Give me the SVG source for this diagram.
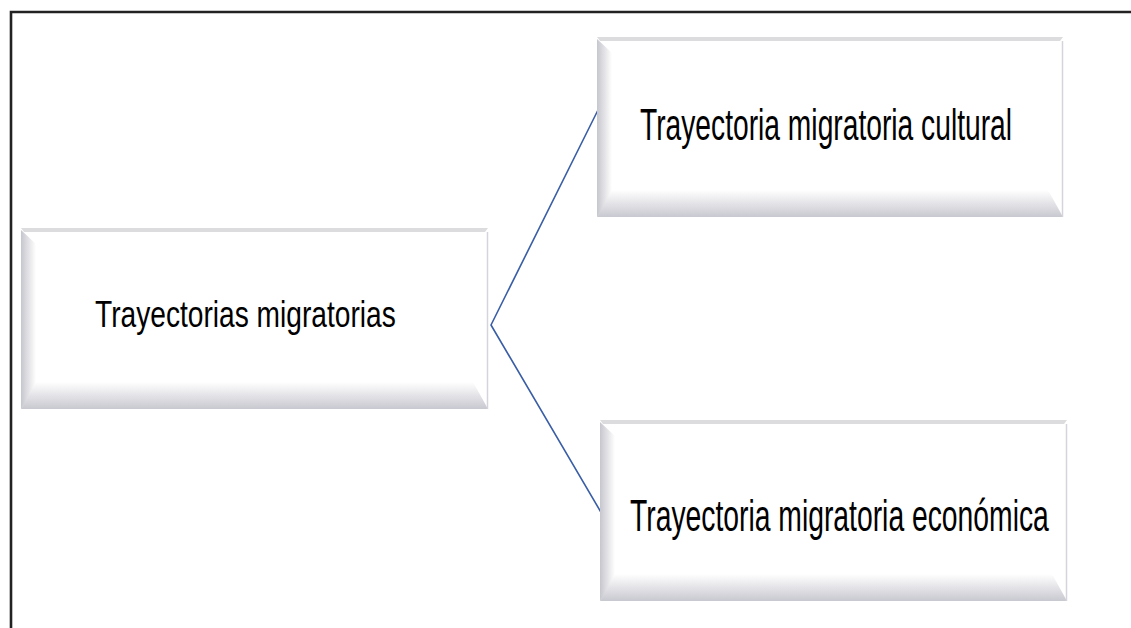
<svg xmlns="http://www.w3.org/2000/svg" width="1131" height="628" viewBox="0 0 1131 628">
  <style>
    .face { fill: #ffffff; }
    .top { fill: #dcdcde; }
    .side { fill: url(#gLeft); }
    .base { fill: url(#gBottom); }
    .edge { stroke: #d4d4da; stroke-width: 1.5; fill: none; }
    .label { font-family: "Liberation Sans", Arial, sans-serif; fill: #000000; text-anchor: start; }
    .link { stroke: #3a5ea6; stroke-width: 1.6; fill: none; stroke-linejoin: round; }
  </style>
  <defs>
    <linearGradient id="gLeft" x1="0" y1="0" x2="1" y2="0">
      <stop offset="0" stop-color="#c6c6ce"/>
      <stop offset="1" stop-color="#ffffff"/>
    </linearGradient>
    <linearGradient id="gBottom" x1="0" y1="0" x2="0" y2="1">
      <stop offset="0" stop-color="#ffffff"/>
      <stop offset="1" stop-color="#c8c8d0"/>
    </linearGradient>
  </defs>

  <rect width="1131" height="628" fill="#ffffff"/>
  <!-- outer frame -->
  <path d="M11,628 V12 H1131" fill="none" stroke="#222222" stroke-width="2.6"/>

  <!-- connectors -->
  <g id="connectors">
    <polyline class="link" points="598,110 491,325 602,514"/>
  </g>

  <!-- root node -->
  <g id="node-root">
    <rect class="face" x="21" y="228" width="467" height="181"/>
    <polygon class="top" points="21,228 488,228 485,232 24,232"/>
    <polygon class="side" points="21,230 36,244 36,387 21,409"/>
    <polygon class="base" points="21,409 36,382 473,382 488,409"/>
    <line class="edge" x1="487.5" y1="232" x2="487.5" y2="409"/>
    <text class="label" font-size="37" transform="translate(95,327) scale(0.761,1)">Trayectorias migratorias</text>
  </g>

  <!-- cultural node -->
  <g id="node-cultural">
    <rect class="face" x="597" y="37" width="466" height="180"/>
    <polygon class="top" points="597,37 1063,37 1060,41 600,41"/>
    <polygon class="side" points="597,39 612,53 612,195 597,217"/>
    <polygon class="base" points="597,217 612,190 1048,190 1063,217"/>
    <line class="edge" x1="1062.5" y1="41" x2="1062.5" y2="217"/>
    <text class="label" font-size="45" transform="translate(640,140) scale(0.627,1)">Trayectoria migratoria cultural</text>
  </g>

  <!-- economic node -->
  <g id="node-economica">
    <rect class="face" x="600" y="420" width="467" height="181"/>
    <polygon class="top" points="600,420 1067,420 1064,424 603,424"/>
    <polygon class="side" points="600,422 615,436 615,579 600,601"/>
    <polygon class="base" points="600,601 615,574 1052,574 1067,601"/>
    <line class="edge" x1="1066.5" y1="424" x2="1066.5" y2="601"/>
    <text class="label" font-size="45" transform="translate(630,531) scale(0.629,1)">Trayectoria migratoria económica</text>
  </g>
</svg>
